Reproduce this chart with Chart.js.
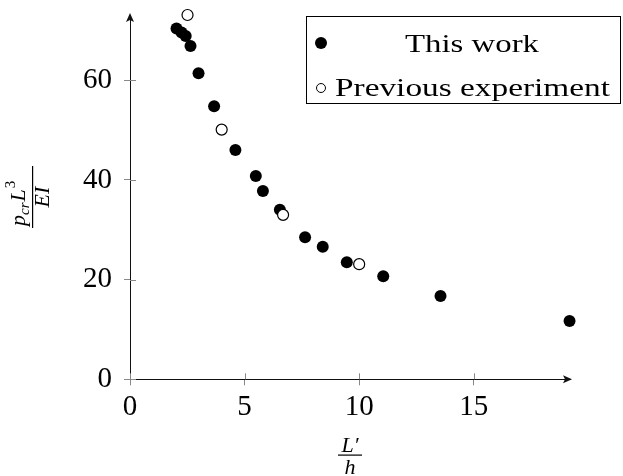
<!DOCTYPE html>
<html>
<head>
<meta charset="utf-8">
<script src="https://cdn.jsdelivr.net/npm/chart.js@4/dist/chart.umd.min.js"></script>
<style>
    html, body { margin: 0; padding: 0; background: #fff; }
    #wrap { width: 623px; height: 476px; position: relative; }
</style>
</head>
<body>
<div id="wrap"><canvas id="chart"></canvas></div>
<script>
// values
const thisWorkX = [2.03, 2.25, 2.43, 2.64, 2.99, 3.67, 4.60, 5.49, 5.80, 6.54, 7.64, 8.41, 9.46, 11.05, 13.55, 19.18];
const thisWorkY = [70.4, 69.6, 68.9, 66.9, 61.4, 54.8, 46.0, 40.8, 37.8, 34.0, 28.5, 26.6, 23.5, 20.7, 16.7, 11.7];
const prevX = [2.51, 4.00, 6.68, 10.0];
const prevY = [73.1, 50.1, 33.0, 23.1];

const seriesLabels = ["This work", "Previous experiment"];
const xTicks = [0, 5, 10, 15];
const yTicks = [0, 20, 40, 60];
const xRange = [0, 19.2];
const yRange = [0, 73.1];

// axis titles are fractions, drawn by hand below
const yTitle = { num: ["p", "cr", "L", "3"], den: "EI" };
const xTitle = { num: "L\u2032", den: "h" };

const serif = "'Liberation Serif', 'DejaVu Serif', serif";

function toPoints(xs, ys) {
    return xs.map((x, i) => ({ x: x, y: ys[i] }));
}

// text squeezed/stretched to a given width (computer modern is wider than times)
function fitText(ctx, text, x, y, width, align) {
    const w = ctx.measureText(text).width;
    const k = width / w;
    ctx.save();
    ctx.textAlign = "left";
    const left = align === "center" ? x - width / 2 : x;
    ctx.translate(left, y);
    ctx.scale(k, 1);
    ctx.fillText(text, 0, 0);
    ctx.restore();
}

// inside half of the ticks, the arrows, legend and the axis titles
const decorPlugin = {
    id: "decor",
    afterDraw(chart) {
        const ctx = chart.ctx;
        const xs = chart.scales.x;
        const ys = chart.scales.y;
        const area = chart.chartArea;
        const x0 = xs.getPixelForValue(0);
        const y0 = ys.getPixelForValue(0);

        ctx.save();
        ctx.strokeStyle = "#888";
        ctx.lineWidth = 1;
        ctx.beginPath();
        xTicks.forEach((t) => {
            const px = Math.round(xs.getPixelForValue(t)) + 0.5;
            ctx.moveTo(px, y0);
            ctx.lineTo(px, y0 - 6);
        });
        yTicks.forEach((t) => {
            const py = Math.round(ys.getPixelForValue(t)) + 0.5;
            ctx.moveTo(x0, py);
            ctx.lineTo(x0 + 6, py);
        });
        ctx.stroke();

        // arrow heads
        ctx.fillStyle = "#111";
        ctx.beginPath();
        ctx.moveTo(x0, area.top - 2);
        ctx.lineTo(x0 - 4, area.top + 7);
        ctx.lineTo(x0, area.top + 5);
        ctx.lineTo(x0 + 4, area.top + 7);
        ctx.closePath();
        ctx.fill();
        ctx.beginPath();
        ctx.moveTo(area.right + 2, y0);
        ctx.lineTo(area.right - 7, y0 - 4);
        ctx.lineTo(area.right - 5, y0);
        ctx.lineTo(area.right - 7, y0 + 4);
        ctx.closePath();
        ctx.fill();

        // legend
        ctx.strokeStyle = "#000";
        ctx.lineWidth = 1;
        ctx.strokeRect(306.5, 16.5, 314, 87);
        ctx.fillStyle = "#000";
        ctx.beginPath();
        ctx.arc(321, 43, 6, 0, Math.PI * 2);
        ctx.fill();
        ctx.beginPath();
        ctx.arc(321, 88, 4.5, 0, Math.PI * 2);
        ctx.fillStyle = "#fff";
        ctx.fill();
        ctx.strokeStyle = "#000";
        ctx.stroke();
        ctx.fillStyle = "#000";
        ctx.font = "26px " + serif;
        ctx.textBaseline = "alphabetic";
        fitText(ctx, seriesLabels[0], 472, 52, 134, "center");
        fitText(ctx, seriesLabels[1], 335, 96, 275, "left");

        // x title: L'/h
        ctx.font = "italic 22px " + serif;
        ctx.textAlign = "center";
        ctx.fillText(xTitle.num, 350, 452);
        ctx.fillText(xTitle.den, 350, 474);
        ctx.fillRect(338, 454.5, 24, 1.2);

        // y title, rotated
        ctx.translate(32, 197);
        ctx.rotate(-Math.PI / 2);
        ctx.fillRect(-31, 0, 62, 1.2);
        ctx.textAlign = "left";
        ctx.font = "italic 22px " + serif;
        let px = -29;
        ctx.fillText(yTitle.num[0], px, -7);
        px += ctx.measureText(yTitle.num[0]).width;
        ctx.font = "italic 15px " + serif;
        ctx.fillText(yTitle.num[1], px, -3);
        px += ctx.measureText(yTitle.num[1]).width + 1;
        ctx.font = "italic 22px " + serif;
        ctx.fillText(yTitle.num[2], px, -7);
        px += ctx.measureText(yTitle.num[2]).width + 1;
        ctx.font = "15px " + serif;
        ctx.fillText(yTitle.num[3], px, -17);
        ctx.font = "italic 22px " + serif;
        ctx.textAlign = "center";
        ctx.fillText(yTitle.den, 0, 17);
        ctx.restore();
    },
};

new Chart(document.getElementById("chart"), {
    type: "scatter",
    data: {
        datasets: [
            {
                label: seriesLabels[0],
                data: toPoints(thisWorkX, thisWorkY),
                pointRadius: 6,
                pointBackgroundColor: "#000",
                pointBorderColor: "#000",
                pointBorderWidth: 0,
                order: 1,
                clip: false,
            },
            {
                label: seriesLabels[1],
                data: toPoints(prevX, prevY),
                pointRadius: 5.5,
                pointBackgroundColor: "#fff",
                pointBorderColor: "#000",
                pointBorderWidth: 1.2,
                order: 0,
                clip: false,
            },
        ],
    },
    options: {
        responsive: true,
        maintainAspectRatio: false,
        animation: false,
        layout: { padding: { left: 0, top: 15, right: 53, bottom: 0 } },
        plugins: {
            legend: { display: false },
            tooltip: { enabled: false },
        },
        scales: {
            x: {
                type: "linear",
                min: xRange[0],
                max: xRange[1],
                afterFit: (s) => {
                    s.height = 96.7;
                    s.paddingLeft = 0;
                    s.paddingRight = 0;
                },
                afterBuildTicks: (s) => { s.ticks = xTicks.map((v) => ({ value: v })); },
                border: { display: true, color: "#111", width: 1 },
                grid: { drawOnChartArea: false, drawTicks: true, tickLength: 6, color: "#888" },
                ticks: { color: "#000", padding: 5, font: { family: serif, size: 29 } },
            },
            y: {
                type: "linear",
                min: yRange[0],
                max: yRange[1],
                afterFit: (s) => {
                    s.width = 130;
                    s.paddingTop = 0;
                    s.paddingBottom = 0;
                },
                afterBuildTicks: (s) => { s.ticks = yTicks.map((v) => ({ value: v })); },
                border: { display: true, color: "#111", width: 1 },
                grid: { drawOnChartArea: false, drawTicks: true, tickLength: 6, color: "#888" },
                ticks: { color: "#000", padding: 12, font: { family: serif, size: 29 } },
            },
        },
    },
    plugins: [decorPlugin],
});
</script>
</body>
</html>
